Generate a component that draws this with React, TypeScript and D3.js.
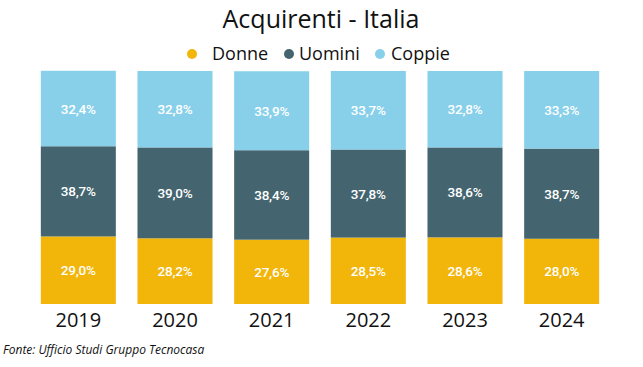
import React from "react";
import * as d3 from "d3";

const years = ["2019", "2020", "2021", "2022", "2023", "2024"];
const seriesNames = ["Donne", "Uomini", "Coppie"];
const donne = [29.0, 28.2, 27.6, 28.5, 28.6, 28.0];
const uomini = [38.7, 39.0, 38.4, 37.8, 38.6, 38.7];
const coppie = [32.4, 32.8, 33.9, 33.7, 32.8, 33.3];
const colors = ["#F2B50A", "#44656F", "#88D0EA"];

const W = 643;
const H = 367;

export default function App() {
  const data = years.map((y, i) => ({ year: y, Donne: donne[i], Uomini: uomini[i], Coppie: coppie[i] }));
  const stack = d3.stack<any>().keys(seriesNames)(data);
  const x = d3.scaleBand().domain(years).range([30, 610]).paddingInner(0.224).paddingOuter(0.112);
  const y = d3.scaleLinear().domain([0, 100]).range([304, 71]);
  const fmt = (v: number) => v.toFixed(1).replace(".", ",") + "%";
  const legend = [
    { name: "Donne", cx: 192, tx: 212 },
    { name: "Uomini", cx: 289, tx: 299 },
    { name: "Coppie", cx: 380, tx: 391 },
  ];
  return (
    <svg width={W} height={H} style={{ display: "block", position: "absolute", left: 0, top: 0 }}>
      <rect width={W} height={H} fill="#fff" />
      <text x={321} y={28} textAnchor="middle" fontFamily="'Open Sans', sans-serif" fontSize={25} fill="#111">
        Acquirenti - Italia
      </text>
      {legend.map((l, i) => (
        <g key={l.name}>
          <circle cx={l.cx} cy={54} r={5} fill={colors[i]} />
          <text x={l.tx} y={60} fontFamily="'Open Sans', sans-serif" fontSize={18} fill="#111">
            {l.name}
          </text>
        </g>
      ))}
      {stack.map((s, si) => (
        <g key={s.key}>
          {s.map((d, i) => (
            <g key={i}>
              <rect
                x={x(years[i])}
                width={x.bandwidth()}
                y={y(d[1])}
                height={y(d[0]) - y(d[1])}
                fill={colors[si]}
              />
              <text
                x={(x(years[i]) as number) + x.bandwidth() / 2}
                y={(y(d[0]) + y(d[1])) / 2 + 5}
                textAnchor="middle"
                fontFamily="Roboto, sans-serif"
                fontWeight={500}
                fontSize={13.5}
                letterSpacing={-0.2}
                fill="#fff"
              >
                {fmt(d[1] - d[0])}
              </text>
            </g>
          ))}
        </g>
      ))}
      {years.map((yr) => (
        <text
          key={yr}
          x={(x(yr) as number) + x.bandwidth() / 2}
          y={327}
          textAnchor="middle"
          fontFamily="'Open Sans', sans-serif"
          fontSize={20}
          fill="#111"
        >
          {yr}
        </text>
      ))}
      <text x={3} y={354} fontFamily="'Open Sans', sans-serif" fontStyle="italic" fontSize={12} fill="#111">
        Fonte: Ufficio Studi Gruppo Tecnocasa
      </text>
    </svg>
  );
}
